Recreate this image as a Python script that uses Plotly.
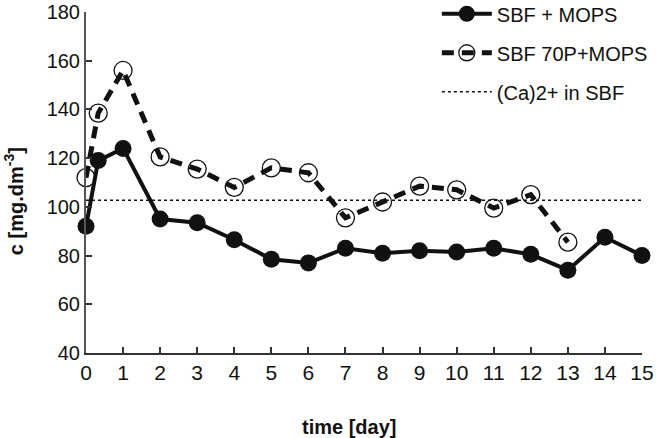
import plotly.graph_objects as go

days_mops = [0, 0.33, 1, 2, 3, 4, 5, 6, 7, 8, 9, 10, 11, 12, 13, 14, 15]
c_mops = [92, 119, 124, 95, 93.5, 86.5, 78.5, 77, 83, 81, 82, 81.5, 83, 80.5, 74, 87.5, 80]

days_70p = [0, 0.33, 1, 2, 3, 4, 5, 6, 7, 8, 9, 10, 11, 12, 13]
c_70p = [112, 138.5, 156, 120.5, 115.5, 108, 116, 114, 95.5, 102, 108.5, 107, 99.5, 105, 85.5]

ca_sbf = 102.7
x_ticks = list(range(0, 16))
y_ticks = list(range(40, 181, 20))

FONT = "Liberation Sans, Arial, sans-serif"
INK = "#111111"

fig = go.Figure()
fig.add_trace(go.Scatter(
    x=days_mops, y=c_mops, name="SBF + MOPS", mode="lines+markers",
    line=dict(color=INK, width=4),
    marker=dict(symbol="circle", size=17, color=INK),
    cliponaxis=False, legendgroup="a"))
fig.add_trace(go.Scatter(
    x=days_70p, y=c_70p, name="SBF 70P+MOPS", mode="lines+markers",
    line=dict(color=INK, width=5, dash="12px,8px"),
    marker=dict(symbol="circle-open", size=18, color=INK, line=dict(width=1.3, color=INK)),
    cliponaxis=False, legendgroup="b"))
fig.add_trace(go.Scatter(
    x=[0, 15], y=[ca_sbf, ca_sbf], name="(Ca)2+ in SBF", mode="lines",
    line=dict(color=INK, width=1.5, dash="dot"), legendgroup="c"))

fig.update_layout(
    width=670, height=438,
    margin=dict(l=86, r=28, t=12, b=85, autoexpand=False),
    paper_bgcolor="white", plot_bgcolor="white",
    font=dict(family=FONT, size=20, color=INK),
    showlegend=True,
    legend=dict(x=0.631, y=1.052, xanchor="left", yanchor="top",
                font=dict(size=20, color=INK), bgcolor="rgba(0,0,0,0)",
                tracegroupgap=10, itemwidth=50),
    xaxis=dict(range=[0, 15], tickvals=x_ticks, ticks="inside", ticklen=6,
               tickwidth=1.5, tickcolor="#333", showline=True, linecolor="#333",
               linewidth=2, showgrid=False, zeroline=False, automargin=False,
               ticklabeloverflow="allow",
               tickfont=dict(size=21, color=INK)),
    yaxis=dict(range=[40, 180], tickvals=y_ticks, ticks="inside", ticklen=6,
               tickwidth=1.5, tickcolor="#333", showline=True, linecolor="#555",
               linewidth=2, showgrid=False, zeroline=False, automargin=False,
               ticklabeloverflow="allow",
               tickfont=dict(size=20, color=INK)),
    annotations=[
        dict(text="<b>time [day]</b>", xref="paper", yref="paper",
             x=0.473, y=-0.216, showarrow=False, font=dict(size=20, color=INK),
             xanchor="center", yanchor="middle"),
        dict(text="<b>c [mg.dm<sup>-3</sup>]</b>", xref="paper", yref="paper",
             x=-0.129, y=0.446, showarrow=False, textangle=-90,
             font=dict(size=20, color=INK), xanchor="center", yanchor="middle"),
    ],
)

fig.write_html("out.html", config={"displayModeBar": False},
               post_script="document.body.style.margin='0';")
